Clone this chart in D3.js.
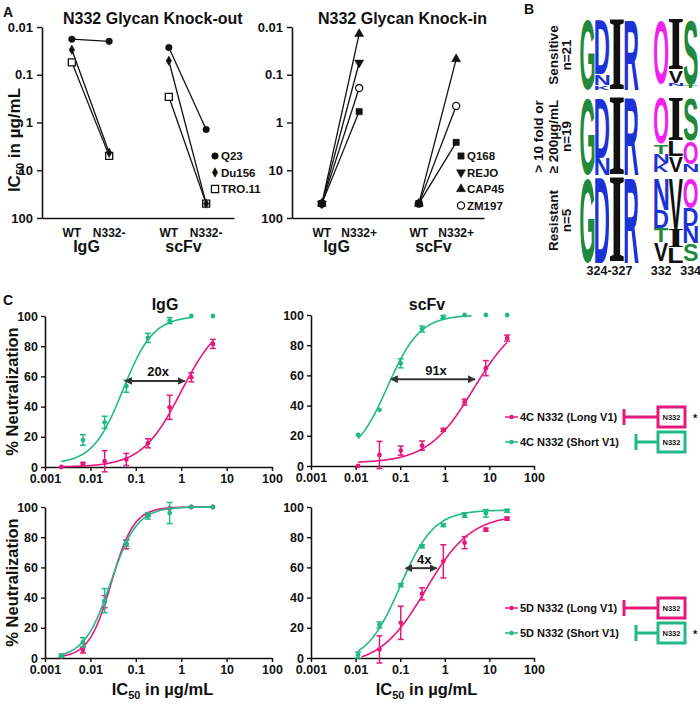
<!DOCTYPE html>
<html><head><meta charset="utf-8">
<script src="https://cdn.jsdelivr.net/npm/d3@7"></script>
<style>
body{margin:0;background:#fff}
svg{display:block}
text{font-family:"Liberation Sans",Arial,sans-serif;font-weight:bold;fill:#111}
</style></head><body>
<svg id="fig" width="700" height="706"></svg>
<script>
// ================= DATA =================
// Panel A
const aGroups = ["IgG", "scFv"];
const koConds = ["WT", "N332-"];
const kiConds = ["WT", "N332+"];
const aTicks = [0.01, 0.1, 1, 10, 100];
const aTickLabels = ["0.01", "0.1", "1", "10", "100"];
const koViruses = ["Q23", "Du156", "TRO.11"];
const koIgGWT = [0.018, 0.030, 0.055];
const koIgGMut = [0.020, 4.3, 5.0];
const koScfvWT = [0.027, 0.051, 0.29];
const koScfvMut = [1.4, 50, 50];
const kiViruses = ["Q168", "REJO", "CAP45", "ZM197"];
const kiIgGWT = [50, 50, 50, 50];
const kiIgGMut = [0.59, 0.056, 0.014, 0.19];
const kiScfvWT = [50, null, 50, 50];
const kiScfvMut = [2.6, null, 0.047, 0.45];

// Panel B (sequence logo: letter, fraction of column height, top to bottom)
const logoPositions = ["324", "325", "326", "327", "gap", "332", "333", "334"];
const logoSensitive = [[["G",1]], [["D",0.78],["N",0.15],["K",0.07]], [["I",1]], [["R",1]], [],
  [["O",0.92]], [["I",0.72],["V",0.18],["N",0.05]], [["S",0.93],["T",0.04]]];
const logoPartial = [[["G",1]], [["D",0.78],["N",0.22]], [["I",1]], [["R",1]], [],
  [["O",0.6],["T",0.13],["N",0.12],["K",0.12]], [["I",0.56],["L",0.2],["V",0.2]], [["S",0.56],["O",0.3],["N",0.11]]];
const logoResistant = [[["G",1]], [["D",1]], [["I",1]], [["R",1]], [],
  [["N",0.38],["D",0.21],["T",0.17],["V",0.22]], [["V",0.6],["I",0.22],["L",0.18]], [["O",0.36],["D",0.21],["N",0.2],["S",0.21]]];
const logoRowLabels = [["Sensitive", "n=21"], ["> 10 fold or", "≥ 200µg/mL", "n=19"], ["Resistant", "n=5"]];
const logoBottomLabels = [["324-327", "324", "327"], ["332", "332", "332"], ["334", "334", "334"]];

// Panel C
const cTicksX = [0.001, 0.01, 0.1, 1, 10, 100];
const cTickLabelsX = ["0.001", "0.01", "0.1", "1", "10", "100"];
const cTicksY = [0, 20, 40, 60, 80, 100];
const igConc = [0.00229, 0.00686, 0.0206, 0.0617, 0.185, 0.556, 1.67, 5];
const scConc = [0.0114, 0.0343, 0.103, 0.309, 0.926, 2.78, 8.33, 25];
// 4C N332
const c4IgGLong = [0, 2, 3.8, 5, 15.7, 39.5, 59.4, 81.5];
const c4IgGLongErr = [0.5, 1, 7, 4, 3, 8, 3, 3];
const c4IgGShort = [null, 17.9, 29.6, 53.5, 85.5, 97, 100, 100];
const c4IgGShortErr = [0, 3.5, 4, 4, 3, 2, 0, 0];
const c4ScLong = [0, 7.3, 10.2, 13.5, 23.9, 42.3, 64.8, 84.7];
const c4ScLongErr = [0, 9, 3, 3, 1, 2, 5, 2];
const c4ScShort = [20.6, 37.2, 68, 90.7, 98.7, 100, 100, 100];
const c4ScShortErr = [0, 0, 3, 2, 1, 0, 0, 0];
// 5D N332
const c5IgGLong = [1, 5.3, 37.3, 75.3, 95, 99, 100, 100];
const c5IgGLongErr = [0.5, 2, 4, 3, 1, 0, 0, 0];
const c5IgGShort = [1.5, 10.4, 38, 76, 94, 96, 100, 100];
const c5IgGShortErr = [1, 3, 8, 2, 2, 7, 0, 0];
const c5ScLong = [null, 5.7, 23.3, 42.5, 64, 76.4, 85, 92.3];
const c5ScLongErr = [0, 9, 11, 4, 11, 4, 1, 1];
const c5ScShort = [2, 21.9, 48.3, 74, 88, 94.7, 95.8, 97.5];
const c5ScShortErr = [2, 2, 1, 1, 1, 1.5, 2.5, 1];
// four-parameter fits: [bottom, top, IC50, hill] and fitted range
const fit4IgGLong = [0, 100, 1.0, 1.0], dom4IgGLong = [0.00229, 5];
const fit4IgGShort = [2, 100, 0.052, 1.3], dom4IgGShort = [0.00229, 1.67];
const fit4ScLong = [2, 100, 4.4, 0.85], dom4ScLong = [0.0114, 25];
const fit4ScShort = [5, 100, 0.052, 1.2], dom4ScShort = [0.0114, 4];
const fit5IgGLong = [0, 100, 0.029, 1.75], dom5IgGLong = [0.00229, 5];
const fit5IgGShort = [0, 100, 0.028, 1.5], dom5IgGShort = [0.00229, 5];
const fit5ScLong = [-5, 95, 0.37, 0.85], dom5ScLong = [0.0137, 25];
const fit5ScShort = [-3, 98, 0.1, 1.15], dom5ScShort = [0.0114, 25];
// fold-change arrows [from, to, at %]
const arrow4IgG = [0.08, 1.2, 57], arrow4IgGLabel = "20x";
const arrow4Sc = [0.085, 4.75, 57.5], arrow4ScLabel = "91x";
const arrow5Sc = [0.18, 0.66, 59.5], arrow5ScLabel = "4x";
const legend4 = ["4C N332 (Long V1)", "4C N332 (Short V1)"];
const legend5 = ["5D N332 (Long V1)", "5D N332 (Short V1)"];

// ================= DRAW =================
const svg = d3.select("#fig");
const MAG = "#e5197c", GRN = "#22b98a", DARK = "#333";
const defs = svg.append("defs");
["s", "e"].forEach(k => {
  defs.append("marker").attr("id", "ah" + k).attr("viewBox", "0 0 10 10").attr("refX", k === "e" ? 9 : 1).attr("refY", 5)
    .attr("markerWidth", 4).attr("markerHeight", 4).attr("orient", "auto-start-reverse").attr("markerUnits", "strokeWidth")
    .append("path").attr("d", "M0,0 L10,5 L0,10 z").attr("fill", DARK);
});

function styleAxis(g, fs) {
  g.selectAll("path.domain").attr("stroke", "#111").attr("stroke-width", 1.6);
  g.selectAll(".tick line").attr("stroke", "#111").attr("stroke-width", 1.4);
  g.selectAll(".tick text").attr("font-size", fs).attr("font-family", "Liberation Sans, Arial, sans-serif").attr("font-weight", "bold").attr("fill", "#111");
}

// Panel letters
svg.append("text").attr("x", 3).attr("y", 17).attr("font-size", 14).text("A");
svg.append("text").attr("x", 524).attr("y", 14).attr("font-size", 14).text("B");
svg.append("text").attr("x", 3).attr("y", 305).attr("font-size", 14).text("C");

// ---------- Panel A ----------
const yA = d3.scaleLog().domain([0.01, 100]).range([27, 218]);
function drawAPanel(left, title, conds, viruses, igWT, igMut, scWT, scMut, symbols, legX) {
  const g = svg.append("g").attr("transform", `translate(${left},0)`);
  const xg = d3.scaleBand().domain(aGroups).range([0, 194]);
  const xi = d3.scalePoint().domain(conds).range([0, xg.bandwidth()]).padding(0.8);
  const xp = (grp, c) => xg(grp) + xi(c);
  const ya = g.append("g").call(d3.axisLeft(yA).tickValues(aTicks).tickFormat((d, i) => aTickLabels[i]).tickSize(5).tickSizeOuter(0).tickPadding(4));
  styleAxis(ya, 13);
  const xl = d3.scaleLinear().range([0, 192]);
  const xa = g.append("g").attr("transform", "translate(0,218)").call(d3.axisBottom(xl).ticks(0).tickSizeOuter(0));
  styleAxis(xa, 12);
  g.append("text").attr("x", left === 42 ? 21 : 26).attr("y", 24).attr("font-size", 16).text(title);
  aGroups.forEach(grp => {
    conds.forEach(c => g.append("text").attr("x", xp(grp, c)).attr("y", 237).attr("text-anchor", "middle").attr("font-size", 12).text(c));
    g.append("text").attr("x", xg(grp) + xg.bandwidth() / 2 - 4).attr("y", 252).attr("text-anchor", "middle").attr("font-size", 16).text(grp);
  });
  const sets = [["IgG", igWT, igMut], ["scFv", scWT, scMut]];
  // lines
  sets.forEach(([grp, wt, mut]) => {
    viruses.forEach((v, i) => {
      if (wt[i] == null) return;
      g.append("line").attr("x1", xp(grp, conds[0])).attr("y1", yA(wt[i])).attr("x2", xp(grp, conds[1])).attr("y2", yA(mut[i]))
        .attr("stroke", "#111").attr("stroke-width", 1.3);
    });
  });
  // markers: open ones first, filled on top
  const order = viruses.map((v, i) => i).sort((a, b) => (symbols[b].open ? 1 : 0) - (symbols[a].open ? 1 : 0));
  function sym(gg, s, x, y) {
    gg.append("path").attr("d", d3.symbol().type(s.type).size(s.size)())
      .attr("transform", `translate(${x},${y}) rotate(${s.rot || 0})`)
      .attr("fill", s.open ? "#fff" : "#111").attr("stroke", "#111").attr("stroke-width", s.open ? 1.3 : 0.5);
  }
  sets.forEach(([grp, wt, mut]) => {
    order.forEach(i => {
      if (wt[i] == null) return;
      sym(g, symbols[i], xp(grp, conds[0]), yA(wt[i]));
      sym(g, symbols[i], xp(grp, conds[1]), yA(mut[i]));
    });
  });
  // legend
  viruses.forEach((v, i) => {
    const ly = 156 + i * 16.5;
    sym(svg, symbols[i], legX, ly);
    svg.append("text").attr("x", legX + 6).attr("y", ly + 4).attr("font-size", 11.5).text(v);
  });
}
drawAPanel(42, "N332 Glycan Knock-out", koConds, koViruses, koIgGWT, koIgGMut, koScfvWT, koScfvMut,
  [{type: d3.symbolCircle, size: 34}, {type: d3.symbolDiamond, size: 26}, {type: d3.symbolSquare, size: 50, open: true}], 215);
drawAPanel(292, "N332 Glycan Knock-in", kiConds, kiViruses, kiIgGWT, kiIgGMut, kiScfvWT, kiScfvMut,
  [{type: d3.symbolSquare, size: 40}, {type: d3.symbolTriangle, size: 36, rot: 180}, {type: d3.symbolTriangle, size: 36}, {type: d3.symbolCircle, size: 40, open: true}], 461);
// y label A
svg.append("text").attr("transform", "translate(20,140) rotate(-90)").attr("text-anchor", "middle").attr("font-size", 17)
  .call(t => { t.append("tspan").text("IC"); t.append("tspan").attr("font-size", 11).attr("dy", 4).text("50"); t.append("tspan").attr("dy", -4).text(" in µg/mL"); });

// ---------- Panel B ----------
const logoColors = {G: "#1f8a3c", S: "#1f8a3c", T: "#1f8a3c", D: "#1b32d6", N: "#1b32d6", K: "#1b32d6", R: "#1b32d6", I: "#111", V: "#111", L: "#111", O: "#f020f0"};
const cctx = document.createElement("canvas").getContext("2d");
function glyphBox(ch, fam) {
  cctx.font = `bold 100px ${fam}`;
  const m = cctx.measureText(ch);
  return {l: m.actualBoundingBoxLeft, r: m.actualBoundingBoxRight, a: m.actualBoundingBoxAscent, d: m.actualBoundingBoxDescent};
}
const xB = d3.scaleBand().domain(logoPositions).range([580, 698]);
const logoRowY = [[20, 90], [98, 175], [178, 263]];
const logoData = [logoSensitive, logoPartial, logoResistant];
logoData.forEach((row, r) => {
  const yB = d3.scaleLinear().domain([0, 1]).range(logoRowY[r]);
  row.forEach((stack, pi) => {
    let acc = 0;
    stack.forEach(([ch, f]) => {
      const fam = ch === "I" ? "'Liberation Serif'" : "'Liberation Sans'";
      const b = glyphBox(ch, fam);
      const x0 = xB(logoPositions[pi]) + 0.3, w = xB.bandwidth() - 0.6;
      const y0 = yB(acc) + 0.3, h = yB(acc + f) - yB(acc) - 0.6;
      acc += f;
      if (h <= 0.5) return;
      svg.append("text").text(ch).attr("font-size", 100).style("font-family", fam).style("fill", logoColors[ch])
        .attr("transform", `translate(${x0},${y0}) scale(${w / (b.l + b.r)},${h / (b.a + b.d)}) translate(${b.l},${b.a})`);
    });
  });
  // row labels
  const labs = logoRowLabels[r];
  const xs = labs.length === 3 ? [543, 558, 571] : [558, 571];
  const cy = (logoRowY[r][0] + logoRowY[r][1]) / 2;
  labs.forEach((t, k) => svg.append("text").attr("transform", `translate(${xs[k]},${cy}) rotate(-90)`).attr("text-anchor", "middle").attr("font-size", 13.5).text(t));
});
logoBottomLabels.forEach(([t, a, b]) => {
  const cx = (xB(a) + xB(b) + xB.bandwidth()) / 2;
  svg.append("text").attr("x", cx).attr("y", 275).attr("text-anchor", "middle").attr("font-size", 12.5).text(t);
});

// ---------- Panel C ----------
function fitVal(p, c) { const [b, t, ic, h] = p; return b + (t - b) / (1 + Math.pow(ic / c, h)); }
function curvePanel(cfg) {
  const x = d3.scaleLog().domain([0.001, 100]).range([cfg.x0, cfg.x1]);
  const y = d3.scaleLinear().domain([0, 100]).range([cfg.y1, cfg.y0]);
  const gx = svg.append("g").attr("transform", `translate(0,${cfg.y1})`)
    .call(d3.axisBottom(x).tickValues(cTicksX).tickFormat((d, i) => cTickLabelsX[i]).tickSize(4).tickSizeOuter(0).tickPadding(3));
  styleAxis(gx, 12.5);
  const gy = svg.append("g").attr("transform", `translate(${cfg.x0},0)`)
    .call(d3.axisLeft(y).tickValues(cTicksY).tickSize(4).tickSizeOuter(0).tickPadding(3));
  styleAxis(gy, 12.5);
  if (cfg.title) svg.append("text").attr("x", cfg.titleX).attr("y", 310).attr("text-anchor", "middle").attr("font-size", 16).text(cfg.title);
  cfg.series.forEach(s => {
    const xs = d3.range(0, 201).map(i => Math.pow(10, Math.log10(s.dom[0]) + i / 200 * (Math.log10(s.dom[1]) - Math.log10(s.dom[0]))));
    svg.append("path").attr("d", d3.line().x(c => x(c)).y(c => y(fitVal(s.fit, c)))(xs))
      .attr("fill", "none").attr("stroke", s.color).attr("stroke-width", 1.6);
    cfg.conc.forEach((c, i) => {
      const v = s.vals[i]; if (v == null) return;
      const e = s.err[i];
      if (e > 0.8) {
        const px = x(c);
        svg.append("line").attr("x1", px).attr("x2", px).attr("y1", y(v - e)).attr("y2", y(v + e)).attr("stroke", s.color).attr("stroke-width", 1.5);
        [v - e, v + e].forEach(w => svg.append("line").attr("x1", px - 3).attr("x2", px + 3).attr("y1", y(w)).attr("y2", y(w)).attr("stroke", s.color).attr("stroke-width", 1.5));
      }
      svg.append("circle").attr("cx", x(c)).attr("cy", y(v)).attr("r", 2.4).attr("fill", s.color);
    });
  });
  if (cfg.arrow) {
    const [a, b, p] = cfg.arrow;
    svg.append("line").attr("x1", x(a)).attr("x2", x(b)).attr("y1", y(p)).attr("y2", y(p))
      .attr("stroke", DARK).attr("stroke-width", 2).attr("marker-start", "url(#ahs)").attr("marker-end", "url(#ahe)");
    svg.append("text").attr("x", (x(a) + x(b)) / 2).attr("y", y(p) - 4.5).attr("text-anchor", "middle").attr("font-size", 13).text(cfg.arrowLabel);
  }
  if (cfg.xlabel) svg.append("text").attr("x", (cfg.x0 + cfg.x1) / 2 + 4).attr("y", 695).attr("text-anchor", "middle").attr("font-size", 16.5)
    .call(t => { t.append("tspan").text("IC"); t.append("tspan").attr("font-size", 11).attr("dy", 4).text("50"); t.append("tspan").attr("dy", -4).text(" in µg/mL"); });
  if (cfg.ylabel) svg.append("text").attr("transform", `translate(18,${(cfg.y0 + cfg.y1) / 2}) rotate(-90)`).attr("text-anchor", "middle").attr("font-size", 16.5).text("% Neutralization");
}
const L = {x0: 45, x1: 272}, R = {x0: 311, x1: 534};
curvePanel({...L, y0: 316, y1: 467, conc: igConc, title: "IgG", titleX: 165, ylabel: true,
  series: [{vals: c4IgGShort, err: c4IgGShortErr, fit: fit4IgGShort, dom: dom4IgGShort, color: GRN},
           {vals: c4IgGLong, err: c4IgGLongErr, fit: fit4IgGLong, dom: dom4IgGLong, color: MAG}],
  arrow: arrow4IgG, arrowLabel: arrow4IgGLabel});
curvePanel({...R, y0: 315, y1: 466, conc: scConc, title: "scFv", titleX: 427,
  series: [{vals: c4ScShort, err: c4ScShortErr, fit: fit4ScShort, dom: dom4ScShort, color: GRN},
           {vals: c4ScLong, err: c4ScLongErr, fit: fit4ScLong, dom: dom4ScLong, color: MAG}],
  arrow: arrow4Sc, arrowLabel: arrow4ScLabel});
curvePanel({...L, y0: 507, y1: 658, conc: igConc, ylabel: true, xlabel: true,
  series: [{vals: c5IgGLong, err: c5IgGLongErr, fit: fit5IgGLong, dom: dom5IgGLong, color: MAG},
           {vals: c5IgGShort, err: c5IgGShortErr, fit: fit5IgGShort, dom: dom5IgGShort, color: GRN}]});
curvePanel({...R, y0: 507, y1: 658, conc: scConc, xlabel: true,
  series: [{vals: c5ScLong, err: c5ScLongErr, fit: fit5ScLong, dom: dom5ScLong, color: MAG},
           {vals: c5ScShort, err: c5ScShortErr, fit: fit5ScShort, dom: dom5ScShort, color: GRN}],
  arrow: arrow5Sc, arrowLabel: arrow5ScLabel});

// legends C
function cLegend(labels, y0, starRow) {
  [MAG, GRN].forEach((col, k) => {
    const y = y0 + k * 25;
    svg.append("line").attr("x1", 505).attr("x2", 518).attr("y1", y).attr("y2", y).attr("stroke", col).attr("stroke-width", 1.5);
    svg.append("circle").attr("cx", 511.5).attr("cy", y).attr("r", 2.3).attr("fill", col);
    svg.append("text").attr("x", 520).attr("y", y + 4).attr("font-size", 11).text(labels[k]);
    const tx = k === 0 ? 624 : 636;
    svg.append("line").attr("x1", tx).attr("x2", tx).attr("y1", y - 8).attr("y2", y + 8).attr("stroke", col).attr("stroke-width", 3);
    svg.append("line").attr("x1", tx).attr("x2", 657).attr("y1", y).attr("y2", y).attr("stroke", col).attr("stroke-width", 3);
    svg.append("rect").attr("x", 658).attr("y", y - 10).attr("width", 27).attr("height", 20).attr("fill", "#fff").attr("stroke", col).attr("stroke-width", 3);
    svg.append("text").attr("x", 671.5).attr("y", y + 2.8).attr("text-anchor", "middle").attr("font-size", 7.5).text("N332");
    if (k === starRow) svg.append("text").attr("x", 693).attr("y", y + 5).attr("font-size", 11).attr("font-weight", "normal").text("*");
  });
}
cLegend(legend4, 417, 0);
cLegend(legend5, 608, 1);
</script></body></html>
